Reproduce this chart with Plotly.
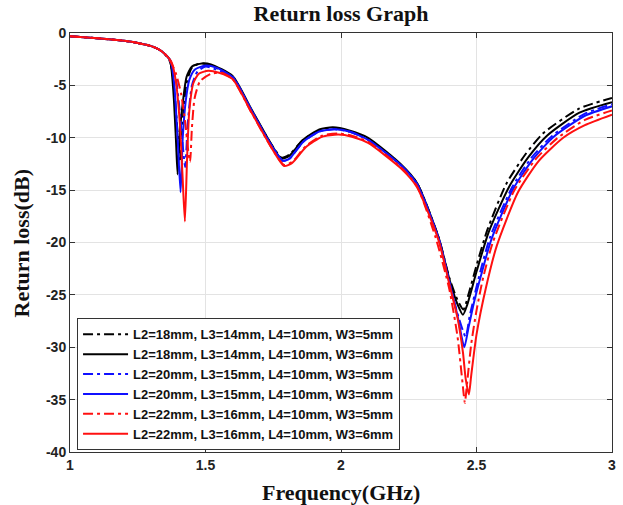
import plotly.graph_objects as go

# ---------------- data ----------------
names = [
    "L2=18mm, L3=14mm, L4=10mm, W3=5mm",
    "L2=18mm, L3=14mm, L4=10mm, W3=6mm",
    "L2=20mm, L3=15mm, L4=10mm, W3=5mm",
    "L2=20mm, L3=15mm, L4=10mm, W3=6mm",
    "L2=22mm, L3=16mm, L4=10mm, W3=5mm",
    "L2=22mm, L3=16mm, L4=10mm, W3=6mm",
]

x_bdd = [1.0, 1.1, 1.2, 1.25, 1.3, 1.33, 1.35, 1.37, 1.385, 1.397, 1.407, 1.417, 1.43, 1.45, 1.48,
         1.52, 1.6, 1.67, 1.74, 1.78, 1.81, 1.86, 1.92, 1.97, 2.03, 2.1, 2.22, 2.28, 2.36, 2.40,
         2.43, 2.452, 2.47, 2.50, 2.54, 2.61, 2.68, 2.745, 2.88, 3.0]
y_bdd = [-0.3, -0.5, -0.75, -0.95, -1.25, -1.6, -2.0, -2.8, -5.5, -9.5, -12.3, -8.0, -4.8, -3.3, -2.9,
         -3.1, -4.2, -7.4, -10.5, -11.9, -11.6, -10.2, -9.3, -9.1, -9.4, -10.1, -12.6, -14.3, -19.5, -23.4,
         -25.5, -26.4, -25.0, -22.2, -18.8, -14.4, -11.6, -9.6, -7.2, -6.2]

x_bs = [1.0, 1.1, 1.2, 1.25, 1.3, 1.33, 1.35, 1.369, 1.381, 1.391, 1.397, 1.405, 1.417, 1.43, 1.45,
        1.486, 1.52, 1.6, 1.67, 1.74, 1.78, 1.81, 1.86, 1.92, 1.97, 2.03, 2.1, 2.22, 2.28, 2.36, 2.40,
        2.43, 2.45, 2.465, 2.50, 2.545, 2.62, 2.69, 2.76, 2.88, 3.0]
y_bs = [-0.3, -0.5, -0.75, -0.95, -1.25, -1.6, -2.0, -2.6, -5.4, -10.2, -13.5, -9.5, -6.5, -4.2, -3.2,
        -2.9, -3.0, -4.1, -7.3, -10.5, -12.0, -11.7, -10.2, -9.2, -9.0, -9.3, -10.0, -12.5, -14.3, -19.5, -23.5,
        -25.9, -26.9, -26.0, -22.8, -19.0, -14.7, -11.9, -9.8, -7.6, -6.6]

x_udd = [1.0, 1.1, 1.2, 1.25, 1.3, 1.33, 1.35, 1.37, 1.39, 1.405, 1.417, 1.425, 1.435, 1.45, 1.47,
         1.50, 1.54, 1.6, 1.67, 1.74, 1.785, 1.81, 1.86, 1.92, 1.975, 2.03, 2.1, 2.22, 2.28, 2.36, 2.40,
         2.43, 2.46, 2.475, 2.51, 2.55, 2.63, 2.70, 2.78, 2.9, 3.0]
y_udd = [-0.3, -0.5, -0.75, -0.95, -1.25, -1.6, -2.0, -2.7, -4.3, -7.5, -11.0, -12.8, -8.5, -5.0, -3.7,
         -3.2, -3.5, -4.2, -7.4, -10.6, -12.2, -12.0, -10.4, -9.4, -9.2, -9.4, -10.2, -12.6, -14.4, -19.6, -23.8,
         -26.8, -29.0, -27.0, -23.2, -19.5, -14.8, -12.0, -9.8, -7.7, -6.8]

x_us = [1.0, 1.1, 1.2, 1.25, 1.3, 1.33, 1.35, 1.372, 1.385, 1.397, 1.408, 1.416, 1.427, 1.44, 1.46,
        1.50, 1.54, 1.6, 1.67, 1.74, 1.785, 1.81, 1.86, 1.92, 1.975, 2.03, 2.1, 2.22, 2.28, 2.36, 2.40,
        2.43, 2.455, 2.47, 2.49, 2.515, 2.555, 2.635, 2.71, 2.785, 2.9, 3.0]
y_us = [-0.3, -0.5, -0.75, -0.95, -1.25, -1.6, -2.0, -2.7, -5.0, -10.0, -15.2, -10.0, -6.5, -4.5, -3.5,
        -3.1, -3.3, -4.2, -7.4, -10.6, -12.2, -12.0, -10.4, -9.4, -9.2, -9.4, -10.2, -12.6, -14.4, -19.6, -23.8,
        -27.0, -30.0, -28.2, -25.8, -23.3, -19.7, -14.9, -12.0, -9.9, -7.9, -7.0]

x_rdd = [1.0, 1.1, 1.2, 1.25, 1.3, 1.33, 1.35, 1.37, 1.39, 1.41, 1.425, 1.435, 1.443, 1.45, 1.46,
         1.48, 1.52, 1.56, 1.6, 1.67, 1.74, 1.79, 1.82, 1.87, 1.93, 1.99, 2.04, 2.1, 2.22, 2.28, 2.35,
         2.40, 2.43, 2.45, 2.457, 2.465, 2.48, 2.50, 2.525, 2.56, 2.64, 2.72, 2.80, 2.9, 3.0]
y_rdd = [-0.3, -0.5, -0.75, -0.95, -1.25, -1.6, -2.0, -2.7, -3.8, -5.8, -8.5, -11.0, -12.3, -9.0, -6.2,
         -4.6, -3.9, -3.8, -4.4, -7.6, -10.8, -12.6, -12.3, -10.8, -9.8, -9.6, -9.8, -10.4, -12.8, -14.6, -19.6,
         -24.5, -29.0, -33.8, -35.3, -33.5, -29.8, -26.5, -23.3, -20.0, -15.0, -12.0, -10.0, -8.3, -7.4]

x_rs = [1.0, 1.1, 1.2, 1.25, 1.3, 1.33, 1.35, 1.375, 1.39, 1.405, 1.415, 1.424, 1.432, 1.44, 1.455,
        1.475, 1.51, 1.55, 1.6, 1.67, 1.74, 1.79, 1.82, 1.87, 1.93, 1.99, 2.04, 2.1, 2.22, 2.28, 2.36,
        2.40, 2.43, 2.45, 2.46, 2.472, 2.48, 2.50, 2.535, 2.575, 2.653, 2.73, 2.82, 2.9, 3.0]
y_rs = [-0.3, -0.5, -0.75, -0.95, -1.25, -1.6, -2.0, -2.8, -4.5, -8.5, -13.5, -18.0, -12.0, -7.5, -4.8,
        -3.9, -3.6, -3.8, -4.4, -7.6, -10.8, -12.7, -12.4, -10.9, -9.9, -9.7, -9.9, -10.5, -12.9, -14.7, -19.8,
        -24.0, -27.2, -30.5, -33.0, -34.5, -32.8, -28.8, -24.3, -20.3, -15.2, -12.2, -10.0, -8.8, -7.8]

xs = [x_bdd, x_bs, x_udd, x_us, x_rdd, x_rs]
ys = [y_bdd, y_bs, y_udd, y_us, y_rdd, y_rs]
colors = ["#000000", "#000000", "#1010ff", "#1010ff", "#ff1010", "#ff1010"]
dashes = ["10px,4px,3px,4px", "solid", "10px,4px,3px,4px", "solid", "10px,4px,3px,4px", "solid"]

x_ticks = [1, 1.5, 2, 2.5, 3]
x_tick_labels = ["1", "1.5", "2", "2.5", "3"]
y_ticks = [0, -5, -10, -15, -20, -25, -30, -35, -40]
y_tick_labels = ["0", "-5", "-10", "-15", "-20", "-25", "-30", "-35", "-40"]

# ---------------- figure ----------------
fig = go.Figure()
for n, x, y, c, d in zip(names, xs, ys, colors, dashes):
    fig.add_trace(go.Scatter(
        x=x, y=y, name=n, mode="lines",
        line=dict(color=c, width=2, dash=d, shape="spline", smoothing=0.6),
    ))

tick_font = dict(family="Liberation Sans, Arial", size=14, color="#222222", weight="bold")
title_font = dict(family="Liberation Serif, Times New Roman", size=22, color="#111111", weight="bold")

axis_common = dict(
    showline=True, linecolor="#333333", linewidth=1, mirror="allticks",
    ticks="inside", ticklen=5, tickcolor="#333333",
    showgrid=True, gridcolor="#e3e3e3", gridwidth=1,
    zeroline=False, tickfont=tick_font, automargin=False,
)

fig.update_layout(
    width=623, height=505,
    margin=dict(l=70, r=11, t=33, b=53),
    paper_bgcolor="white", plot_bgcolor="white",
    title=dict(text="Return loss Graph", x=0.5, xref="paper", xanchor="center",
               y=0.974, yref="container", yanchor="middle", font=title_font, automargin=False),
    xaxis=dict(range=[1, 3], tickvals=x_ticks, ticktext=x_tick_labels, **axis_common),
    yaxis=dict(range=[-40, 0], tickvals=y_ticks, ticktext=y_tick_labels, **axis_common),
    legend=dict(x=0.013, y=0.004, xanchor="left", yanchor="bottom",
                bgcolor="white", bordercolor="#333333", borderwidth=1,
                font=dict(family="Liberation Sans, Arial", size=13, color="#111111", weight="bold"),
                tracegroupgap=0, itemwidth=45),
    showlegend=True,
    annotations=[
        dict(text="Frequency(GHz)", xref="paper", yref="paper", x=0.5, y=-0.096,
             xanchor="center", yanchor="middle", showarrow=False, font=title_font),
        dict(text="Return loss(dB)", xref="paper", yref="paper", x=-0.0886, y=0.5,
             xanchor="center", yanchor="middle", textangle=-90, showarrow=False, font=title_font),
    ],
)

fig.write_html("out.html",
               config={"displayModeBar": False},
               post_script="document.body.style.margin='0';document.body.style.overflow='hidden';")
